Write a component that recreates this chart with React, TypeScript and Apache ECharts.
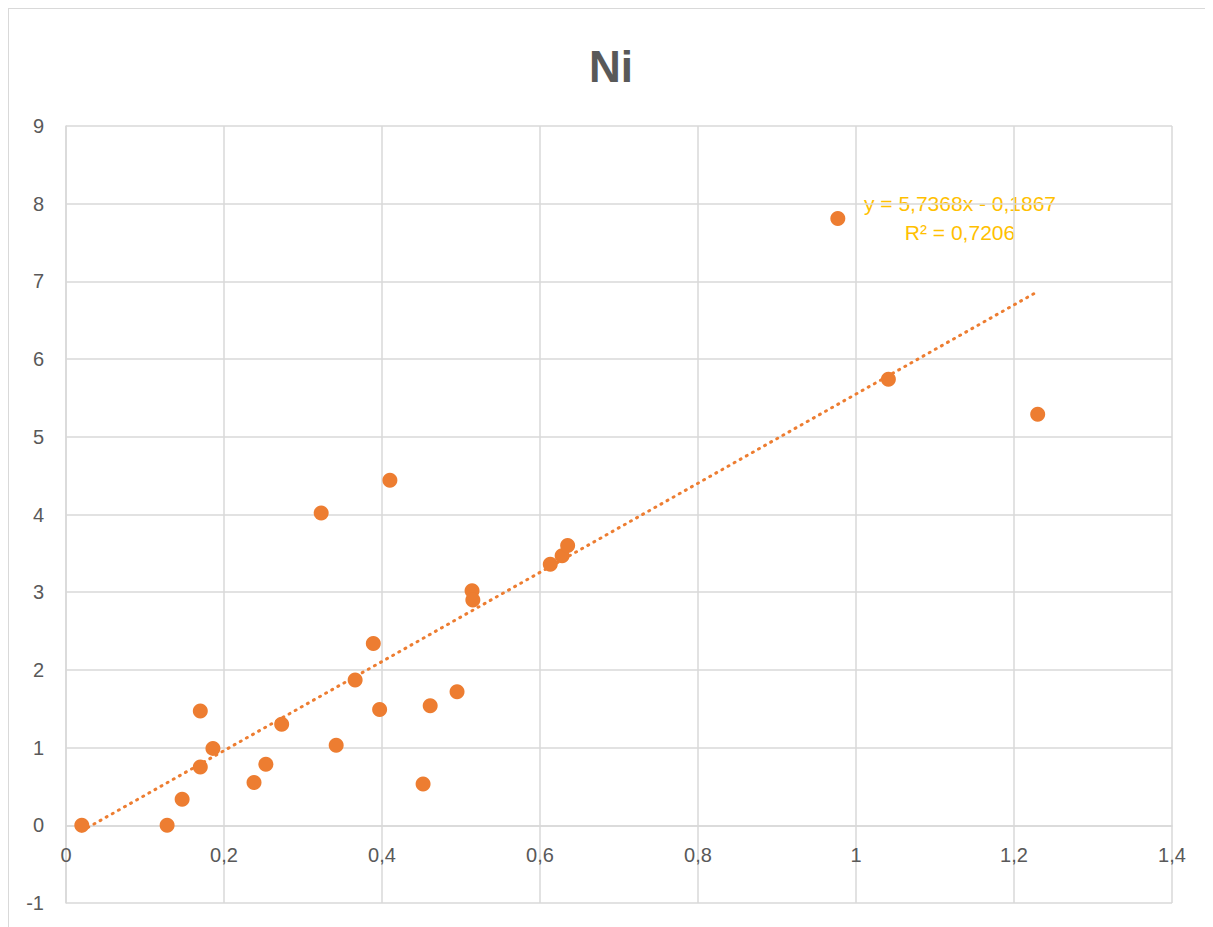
import React, { useEffect, useRef } from "react";
import * as echarts from "echarts";

const niPoints: [number, number][] = [
  [0.02, 0.0], [0.128, 0.0], [0.147, 0.335], [0.17, 1.47], [0.17, 0.75],
  [0.186, 0.99], [0.238, 0.55], [0.253, 0.785], [0.273, 1.3], [0.323, 4.02],
  [0.342, 1.03], [0.366, 1.87], [0.389, 2.34], [0.397, 1.49], [0.41, 4.44],
  [0.452, 0.53], [0.461, 1.54], [0.495, 1.72], [0.514, 3.02], [0.515, 2.9],
  [0.613, 3.36], [0.628, 3.47], [0.635, 3.6], [0.977, 7.81], [1.041, 5.74],
  [1.23, 5.29],
];

const trendPoints: [number, number][] = [
  [0.02, -0.072],
  [1.23, 6.87],
];

const equationLines = ["y = 5,7368x - 0,1867", "R² = 0,7206"];
const titleText = "Ni";

const FONT = "'Liberation Sans', Arial, sans-serif";
const GRAY = "#595959";
const GRID = "#d9d9d9";
const ORANGE = "#ed7d31";

const CHART_H = 918;
const GRID_TOP = 117;
const GRID_BOTTOM = 24;
const Y_MIN = -1;
const Y_MAX = 9;

export default function App() {
  const ref = useRef<HTMLDivElement>(null);
  useEffect(() => {
    if (!ref.current) return;
    const chart = echarts.init(ref.current, undefined, { renderer: "svg" });
    const fmt = (v: number) => String(Math.round(v * 10) / 10).replace(".", ",");
    const unitPx = (CHART_H - GRID_TOP - GRID_BOTTOM) / (Y_MAX - Y_MIN);
    chart.setOption({
      animation: false,
      backgroundColor: "#fff",
      title: {
        text: titleText,
        left: "center",
        top: 30,
        textStyle: { fontFamily: FONT, fontSize: 44, fontWeight: "bold", color: GRAY },
      },
      grid: { left: 57, right: 41, top: GRID_TOP, bottom: GRID_BOTTOM, outerBoundsMode: "none", containLabel: false },
      xAxis: {
        type: "value",
        min: 0,
        max: 1.4,
        interval: 0.2,
        offset: -unitPx * (0 - Y_MIN),
        axisLine: { show: true, onZero: false, lineStyle: { color: GRID, width: 1.5 } },
        axisTick: { show: false },
        splitLine: { show: true, lineStyle: { color: GRID, width: 1.5 } },
        axisLabel: { fontFamily: FONT, fontSize: 20, color: GRAY, margin: 20, formatter: fmt },
      },
      yAxis: {
        type: "value",
        min: Y_MIN,
        max: Y_MAX,
        interval: 1,
        axisLine: { show: true, onZero: false, lineStyle: { color: GRID, width: 1.5 } },
        axisTick: { show: false },
        splitLine: { show: true, lineStyle: { color: GRID, width: 1.5 } },
        axisLabel: { fontFamily: FONT, fontSize: 20, color: GRAY, margin: 22, formatter: fmt },
      },
      series: [
        {
          type: "line",
          data: trendPoints,
          showSymbol: false,
          symbol: "none",
          lineStyle: { color: ORANGE, width: 3, type: [1, 6], cap: "round" },
          z: 2,
        },
        {
          type: "scatter",
          data: niPoints,
          symbolSize: 15,
          itemStyle: { color: ORANGE, opacity: 1 },
          z: 3,
        },
      ],
      graphic: [
        {
          type: "text",
          x: 951,
          y: 194,
          style: {
            text: equationLines[0],
            fontFamily: FONT,
            fontSize: 21,
            fill: "#ffc000",
            align: "center",
            verticalAlign: "middle",
          },
        },
        {
          type: "text",
          x: 951,
          y: 223,
          style: {
            text: equationLines[1],
            fontFamily: FONT,
            fontSize: 21,
            fill: "#ffc000",
            align: "center",
            verticalAlign: "middle",
          },
        },
      ],
    });
    return () => chart.dispose();
  }, []);
  return (
    <div
      style={{
        width: 1205,
        height: 919,
        boxSizing: "border-box",
        borderLeft: "1px solid #d9d9d9",
        borderTop: "1px solid #d9d9d9",
        overflow: "hidden",
      }}
    >
      <div ref={ref} style={{ width: 1204, height: CHART_H }} />
    </div>
  );
}
